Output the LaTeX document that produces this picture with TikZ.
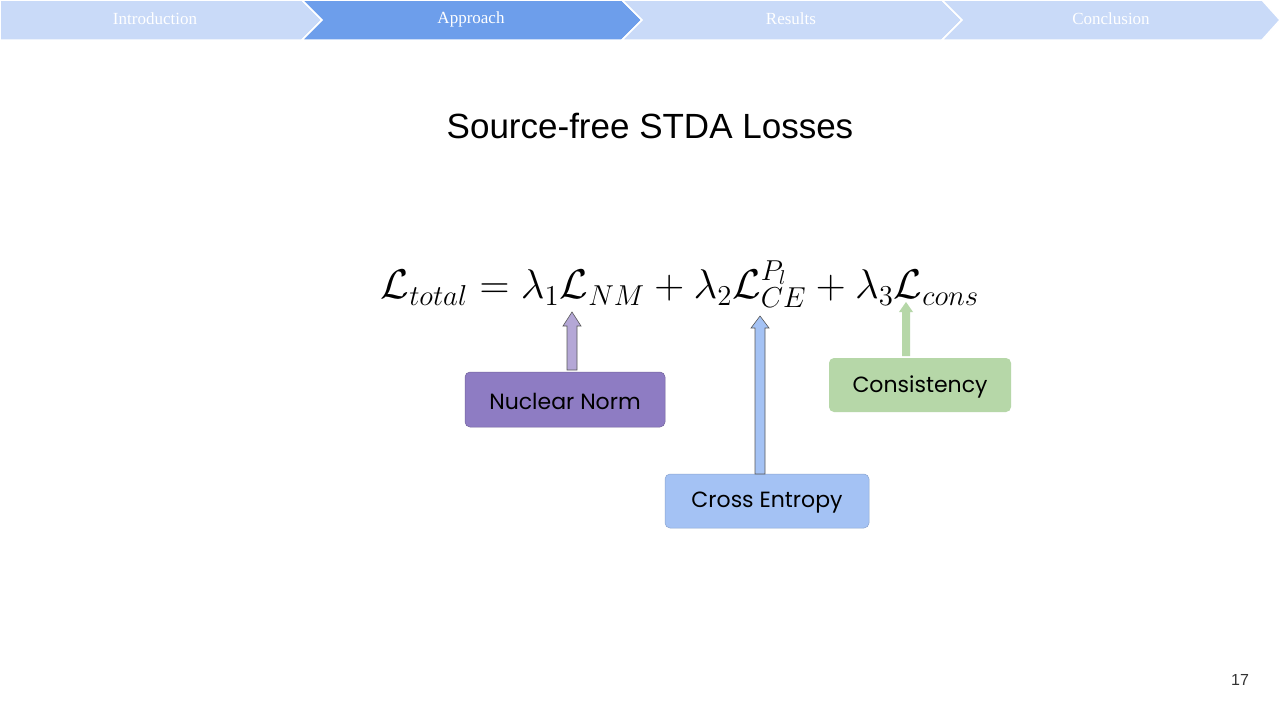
\documentclass[tikz,border=0pt]{standalone}
\usepackage{fontspec}
\setmainfont{Liberation Serif}
\newfontfamily\pop{Poppins}
\newfontfamily\lsans{Liberation Sans}
\definecolor{lightchev}{HTML}{C9DAF8}
\definecolor{darkchev}{HTML}{6D9EEB}
\definecolor{nnfill}{HTML}{8E7CC3}
\definecolor{cefill}{HTML}{A4C2F4}
\definecolor{cofill}{HTML}{B6D7A8}
\definecolor{nnarrow}{HTML}{B4A7D6}
\begin{document}
\begin{tikzpicture}[x=1pt,y=-1pt,
  chev/.style={draw=white,line width=1.5pt},
  chevtxt/.style={text=white,font=\fontsize{17}{20}\selectfont},
  box/.style={rounded corners=5pt,inner sep=0pt},
  lbl/.style={font=\pop\fontsize{22}{26}\selectfont},
  barrow/.style={line width=0.6pt}]
\useasboundingbox (0,0) rectangle (1280,720);
\fill[white] (0,0) rectangle (1280,720);
\fill[lightchev,chev] (0,0) -- (302,0) -- (322,20) -- (302,40) -- (0,40) -- cycle;
\fill[darkchev,chev] (302,0) -- (622,0) -- (642,20) -- (622,40) -- (302,40) -- (322,20) -- cycle;
\fill[lightchev,chev] (622,0) -- (942,0) -- (962,20) -- (942,40) -- (622,40) -- (642,20) -- cycle;
\fill[lightchev,chev] (942,0) -- (1262,0) -- (1280,20) -- (1262,40) -- (942,40) -- (962,20) -- cycle;
\node[chevtxt] (c1) at (155,19) {Introduction};
\node[chevtxt] (c2) at (471,19) {Approach};
\node[chevtxt] (c3) at (791,19) {Results};
\node[chevtxt] (c4) at (1111,19) {Conclusion};
\node[font=\lsans\fontsize{35}{40}\selectfont] (title) at (650,126) {Source-free STDA Losses};
\node[scale=2.0,font=\fontsize{20}{24}\selectfont] (eq) at (680,284) {$\mathcal{L}_{total} = \lambda_1\mathcal{L}_{NM} + \lambda_2\mathcal{L}_{CE}^{P_l} + \lambda_3\mathcal{L}_{cons}$};
% boxes
\draw[box,fill=nnfill,draw=nnfill!80!black,line width=0.5pt] (465,372) rectangle (665,427);
\node[lbl] (nn) at (565,401) {Nuclear Norm};
\draw[box,fill=cefill,draw=cefill!85!black,line width=0.5pt] (665,474) rectangle (869,528);
\node[lbl] (ce) at (767,503) {Cross Entropy};
\draw[box,fill=cofill,draw=none] (829,358) rectangle (1011,412);
\node[lbl] (co) at (920,387) {Consistency};
% block arrows
\coordinate (a1t) at (572,312); \coordinate (a2t) at (760,316); \coordinate (a3t) at (906,302);
\filldraw[barrow,fill=nnarrow,draw=gray!70!black] (567,370) -- (567,326) -- (563,326) -- (a1t) -- (581,326) -- (577,326) -- (577,370) -- cycle;
\filldraw[barrow,fill=cefill,draw=gray!70!black] (755,474) -- (755,328) -- (751,328) -- (a2t) -- (769,328) -- (765,328) -- (765,474) -- cycle;
\fill[cofill] (902,356) -- (902,312) -- (899,312) -- (a3t) -- (913,312) -- (910,312) -- (910,356) -- cycle;
\node[font=\lsans\fontsize{16}{19}\selectfont,text=black!80] (pg) at (1240,680) {17};
\end{tikzpicture}
\end{document}
